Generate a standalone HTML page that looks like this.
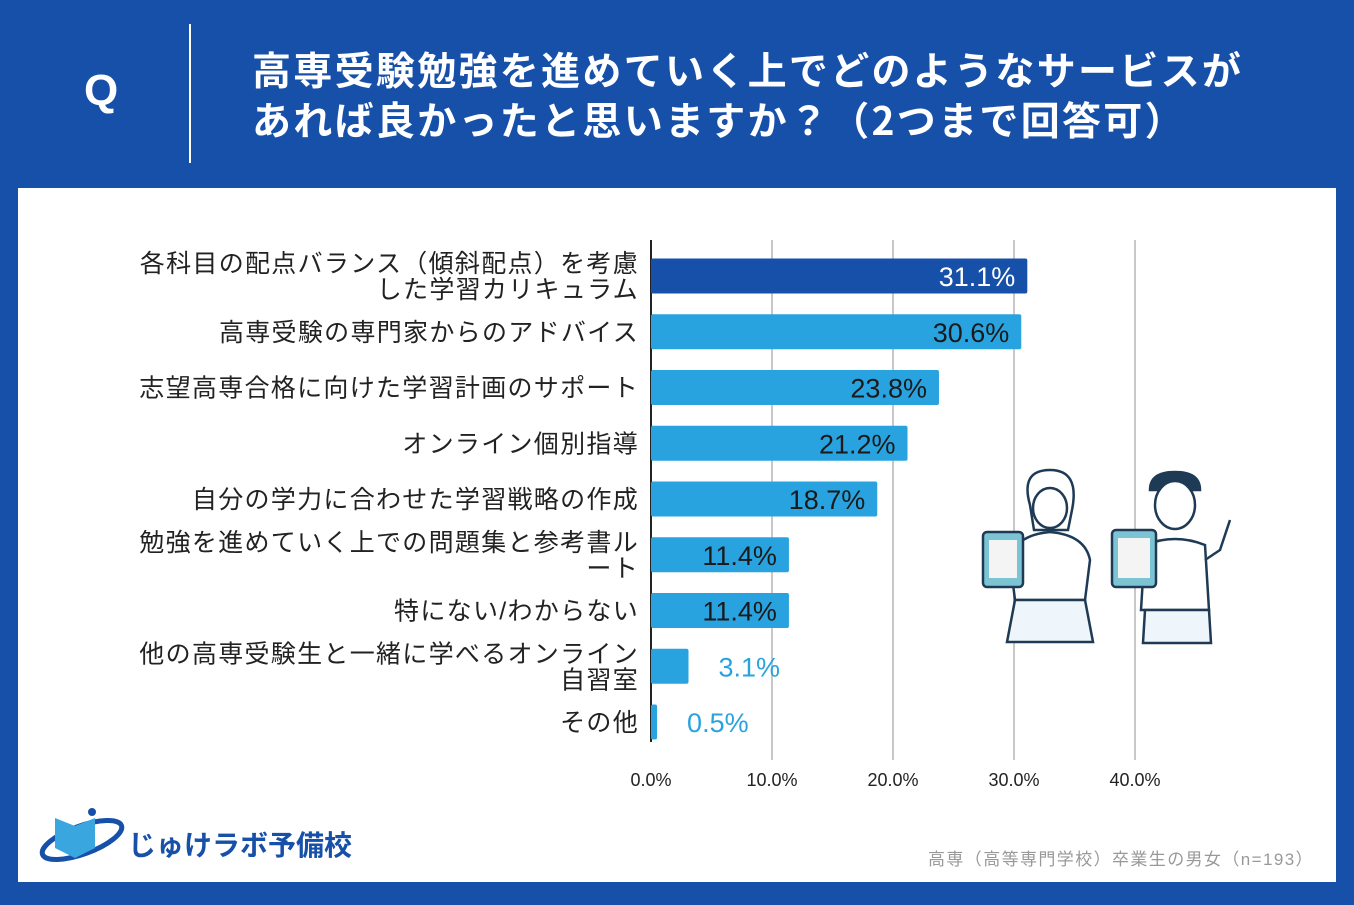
<!DOCTYPE html>
<html><head><meta charset="utf-8"><style>
body{margin:0;width:1354px;height:905px;background:#1750a8;position:relative;overflow:hidden;font-family:"Liberation Sans","Noto Sans CJK JP",sans-serif}
.q{position:absolute;left:84px;top:66px;color:#fff;font-size:44px;font-weight:bold}
.vl{position:absolute;left:189px;top:24px;width:2px;height:139px;background:#fff}
.title{position:absolute;left:252px;top:44px;color:#fff;font-size:39px;letter-spacing:2.3px;font-weight:bold;line-height:50px;font-family:"Noto Sans CJK JP",sans-serif;white-space:nowrap}
.panel{position:absolute;left:18px;top:188px;width:1318px;height:694px;background:#fff}
svg{position:absolute;left:0;top:0}
</style></head><body>
<div class="q">Q</div>
<div class="vl"></div>
<div class="title">高専受験勉強を進めていく上でどのようなサービスが<br>あれば良かったと思いますか？（2つまで回答可）</div>
<div class="panel"></div>
<svg id="chart" width="1354" height="905"></svg>
<script>
const categories=[["各科目の配点バランス（傾斜配点）を考慮","した学習カリキュラム"],["高専受験の専門家からのアドバイス"],["志望高専合格に向けた学習計画のサポート"],["オンライン個別指導"],["自分の学力に合わせた学習戦略の作成"],["勉強を進めていく上での問題集と参考書ル","ート"],["特にない/わからない"],["他の高専受験生と一緒に学べるオンライン","自習室"],["その他"]];
const values=[31.1,30.6,23.8,21.2,18.7,11.4,11.4,3.1,0.5];
const ticks=[0,10,20,30,40];
const NS="http://www.w3.org/2000/svg";
const svg=document.getElementById('chart');
const x0=651,pxPer=12.1,yTop=276,step=55.75,bh=35;
const X=v=>x0+v*pxPer, Y=i=>yTop+i*step;
function mk(t,a,txt){const e=document.createElementNS(NS,t);for(const k in a)e.setAttribute(k,a[k]);if(txt!=null)e.textContent=txt;svg.appendChild(e);return e;}
ticks.forEach(t=>{
  if(t>0){const g=mk('line',{x1:X(t),x2:X(t),y1:240,y2:760,stroke:'#c8c8c8','stroke-width':2});
  
  }
  const l=mk('text',{x:X(t),y:786,'text-anchor':'middle','font-size':18,fill:'#222'},t.toFixed(1)+'%');
  
  
});
const ax=mk('line',{x1:x0,x2:x0,y1:240,y2:742,stroke:'#222','stroke-width':2});


values.forEach((v,i)=>{
  const cy=Y(i);
  const r=mk('rect',{x:x0,y:cy-bh/2,width:X(v)-x0,height:bh,rx:2,fill:i==0?'#1750a8':'#29a3df'});
  
  
  const inside=v>8;
  const t=mk('text',{x:inside?X(v)-12:X(v)+30,y:cy+10,'text-anchor':inside?'end':'start','font-size':27,fill:i==0?'#fff':(inside?'#1a1a1a':'#29a3df')},v.toFixed(1)+'%');
  
  
  const lines=categories[i];
  lines.forEach((ln,j)=>{
    const yy=lines.length==1?cy+9:cy-4+j*26;
    const c=mk('text',{x:639,y:yy,'text-anchor':'end','font-size':25,'letter-spacing':1.3,fill:'#222'},ln);
    
    
  });
});
</script>
<svg width="1354" height="905" style="pointer-events:none">
<g stroke="#1e3a55" stroke-width="2.5" fill="#fff">
 <path d="M1030 505 q-10 -35 20 -35 q30 0 22 40 l-4 20 h-34z"/>
 <ellipse cx="1050" cy="508" rx="17" ry="20"/>
 <path d="M1010 560 q5 -25 40 -28 q35 3 40 28 l-5 40 h-70z"/>
 <path d="M1015 600 h70 l8 42 h-86z" fill="#eef6fb"/>
 <rect x="983" y="532" width="40" height="55" rx="4" fill="#7cc4d4"/>
 <rect x="989" y="540" width="28" height="38" fill="#f4f4f4" stroke="none"/>
 <path d="M1150 490 q0 -18 25 -18 q25 0 25 18 z" fill="#1e3a55"/>
 <ellipse cx="1175" cy="505" rx="20" ry="24"/>
 <path d="M1145 545 q30 -12 60 0 l4 65 h-68z"/>
 <path d="M1145 610 h64 l2 33 h-68z" fill="#eef6fb"/>
 <rect x="1112" y="530" width="44" height="57" rx="4" fill="#7cc4d4"/>
 <rect x="1118" y="538" width="32" height="40" fill="#f4f4f4" stroke="none"/>
 <path d="M1205 560 l15 -10 l10 -30"/>
</g>
</svg>
<svg width="1354" height="905">
 <ellipse cx="82" cy="840" rx="42" ry="14" fill="none" stroke="#1750a8" stroke-width="5" transform="rotate(-20 82 840)"/>
 <path d="M55 818 l20 8 l20 -8 v30 l-20 10 l-20 -10z" fill="#3aa6e0"/>
 <circle cx="92" cy="812" r="4" fill="#1750a8"/>
 <text x="128" y="855" font-size="28" font-weight="bold" fill="#1750a8">じゅけラボ予備校</text>
</svg>
<div style="position:absolute;left:928px;top:845px;font-size:17px;letter-spacing:1.4px;color:#999;white-space:nowrap">高専（高等専門学校）卒業生の男女（n=193）</div>
</body></html>
